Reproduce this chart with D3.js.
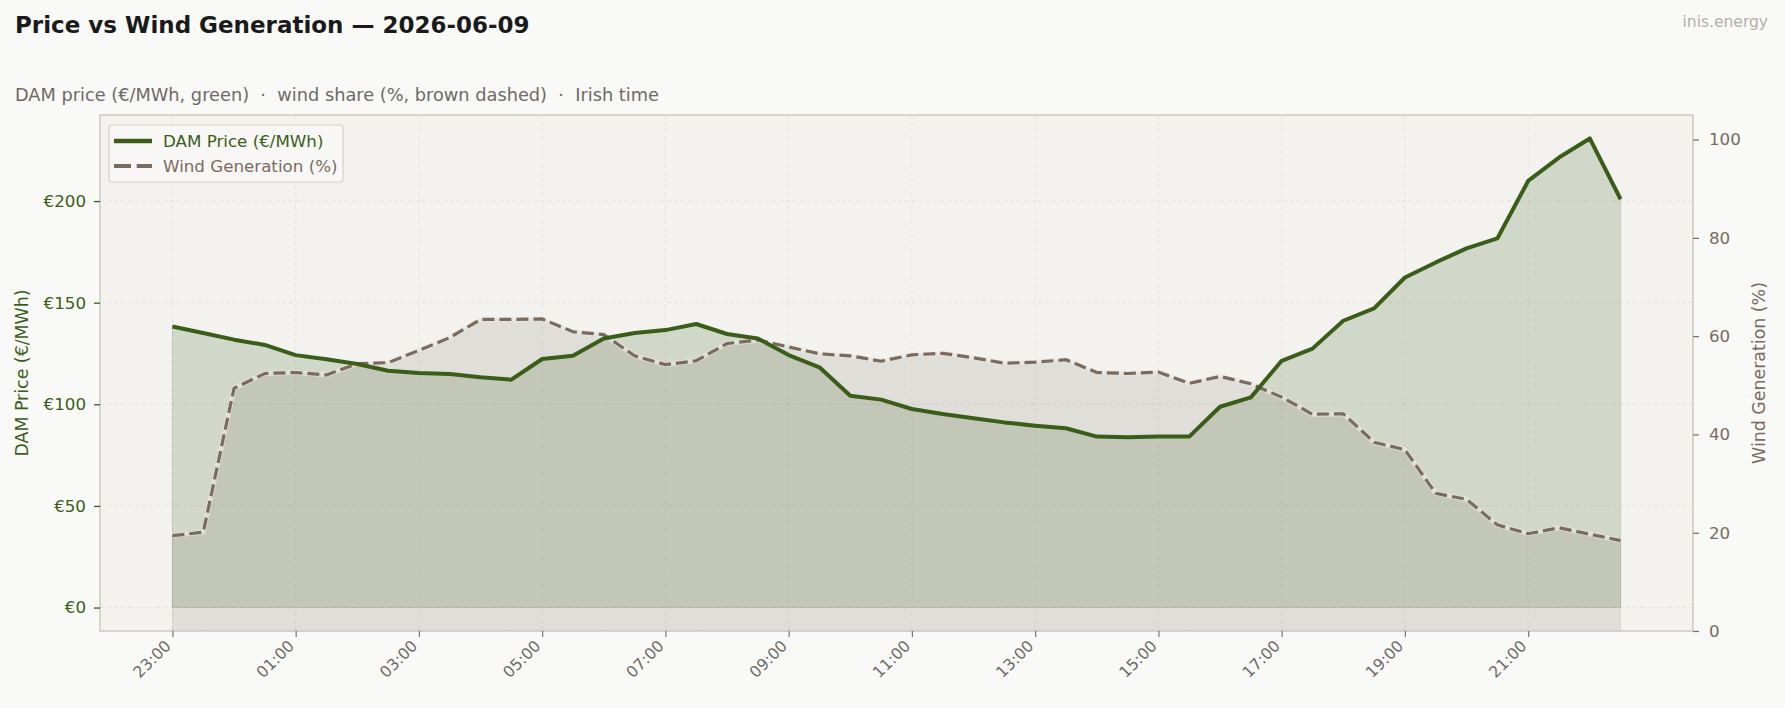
<!DOCTYPE html>
<html><head><meta charset="utf-8">
<script src="https://cdn.jsdelivr.net/npm/d3@7"></script>
<style>
html,body{margin:0;padding:0;background:#f9f9f7;}
svg{display:block;font-family:"DejaVu Sans",sans-serif;}
</style></head>
<body><svg id="c" width="1785" height="708"></svg>
<script>
const times = ["23:00","23:30","00:00","00:30","01:00","01:30","02:00","02:30","03:00","03:30","04:00","04:30",
"05:00","05:30","06:00","06:30","07:00","07:30","08:00","08:30","09:00","09:30","10:00","10:30",
"11:00","11:30","12:00","12:30","13:00","13:30","14:00","14:30","15:00","15:30","16:00","16:30",
"17:00","17:30","18:00","18:30","19:00","19:30","20:00","20:30","21:00","21:30","22:00","22:30"];
const price = [138.3,135.1,131.8,129.2,124.2,122.2,119.8,116.5,115.4,114.9,113.3,112.1,
122.3,123.9,132.4,135.1,136.5,139.5,134.6,132.4,124.2,118.2,104.2,102.3,
97.7,95.2,93.1,91.1,89.5,88.2,84.1,83.8,84.1,84.1,98.8,103.4,
121.4,127.4,141.1,147.2,162.4,169.8,176.7,181.6,209.9,221.4,230.8,200.9];
const wind = [19.4,20.1,49.4,52.4,52.6,52.1,54.4,54.6,57.1,59.7,63.4,63.4,
63.5,60.9,60.3,56.0,54.2,55.0,58.5,59.2,57.8,56.4,56.0,54.9,
56.2,56.5,55.6,54.5,54.7,55.2,52.6,52.4,52.7,50.4,51.8,50.3,
47.6,44.1,44.2,38.4,36.9,28.0,26.8,21.6,19.8,21.0,19.7,18.4];
const xTickLabels = ["23:00","01:00","03:00","05:00","07:00","09:00","11:00","13:00","15:00","17:00","19:00","21:00"];
const priceTicks = [0,50,100,150,200];
const windTicks = [0,20,40,60,80,100];

const W=1785,H=708;
const m={top:115,right:92,bottom:77,left:100};
const iw=W-m.left-m.right, ih=H-m.top-m.bottom;
const GREEN="#3a5e1a", BROWN="#7a6b5f", GRID="#e3e0db";
const FS=16.7, DASH="12,5";

function toDate(s){const [h,mm]=s.split(":").map(Number); return h>=23? new Date(2026,5,8,h,mm) : new Date(2026,5,9,h,mm);}
const dates = times.map(toDate);
const data = dates.map((d,i)=>({t:d,p:price[i],w:wind[i]}));

const t0=dates[0], t1=dates[dates.length-1];
const span=t1-t0, pad=span*0.05;
const x=d3.scaleTime().domain([new Date(+t0-pad),new Date(+t1+pad)]).range([0,iw]);
const pmax=d3.max(price), ppad=pmax*0.05;
const yL=d3.scaleLinear().domain([-ppad,pmax+ppad]).range([ih,0]);
const yR=d3.scaleLinear().domain([0,105]).range([ih,0]);

const svg=d3.select("#c");
svg.append("rect").attr("width",W).attr("height",H).attr("fill","#f9f9f7");

svg.append("text").attr("x",15).attr("y",33).attr("font-size",23).attr("font-weight","bold").attr("fill","#1a1a1a")
  .text("Price vs Wind Generation — 2026-06-09");
svg.append("text").attr("x",15).attr("y",101).attr("font-size",17.75).attr("fill","#6e6a66")
  .style("white-space","pre")
  .text("DAM price (€/MWh, green)  ·  wind share (%, brown dashed)  ·  Irish time");
svg.append("text").attr("x",1768).attr("y",27).attr("font-size",15.5).attr("fill","#b3b0ac").attr("text-anchor","end").text("inis.energy");

const g=svg.append("g").attr("transform",`translate(${m.left},${m.top})`);
g.append("rect").attr("width",iw).attr("height",ih).attr("fill","#f3f2ef");

const tickDates = xTickLabels.map(toDate);
g.append("g").selectAll("line").data(tickDates).join("line")
  .attr("x1",d=>x(d)).attr("x2",d=>x(d)).attr("y1",0).attr("y2",ih)
  .attr("stroke",GRID).attr("stroke-width",0.9).attr("stroke-dasharray","4,3");
g.append("g").selectAll("line").data(priceTicks).join("line")
  .attr("x1",0).attr("x2",iw).attr("y1",d=>yL(d)).attr("y2",d=>yL(d))
  .attr("stroke",GRID).attr("stroke-width",0.9).attr("stroke-dasharray","4,3");

g.append("path").datum(data)
  .attr("d",d3.area().x(d=>x(d.t)).y0(yR(0)).y1(d=>yR(d.w)))
  .attr("fill",BROWN).attr("fill-opacity",0.15).attr("stroke",BROWN).attr("stroke-opacity",0.12).attr("stroke-width",1);
g.append("path").datum(data)
  .attr("d",d3.area().x(d=>x(d.t)).y0(yL(0)).y1(d=>yL(d.p)))
  .attr("fill",GREEN).attr("fill-opacity",0.175).attr("stroke",GREEN).attr("stroke-opacity",0.15).attr("stroke-width",1);

const wl=d3.line().x(d=>x(d.t)).y(d=>yR(d.w));
g.append("path").datum(data).attr("d",wl).attr("fill","none").attr("stroke","#ebe8e2").attr("stroke-opacity",0.7).attr("stroke-width",4.8).attr("stroke-linejoin","round");
g.append("path").datum(data).attr("d",wl).attr("fill","none").attr("stroke",BROWN).attr("stroke-width",3.2).attr("stroke-dasharray",DASH);
g.append("path").datum(data).attr("d",d3.line().x(d=>x(d.t)).y(d=>yL(d.p)))
  .attr("fill","none").attr("stroke",GREEN).attr("stroke-width",4).attr("stroke-linejoin","round");

g.append("rect").attr("width",iw).attr("height",ih).attr("fill","none").attr("stroke","#cdc7c1").attr("stroke-width",1.5);

const ax=d3.axisBottom(x).tickValues(tickDates).tickFormat(d3.timeFormat("%H:%M")).tickSize(6).tickPadding(4);
const gx=g.append("g").attr("transform",`translate(0,${ih})`).call(ax);
gx.select(".domain").remove();
gx.selectAll(".tick line").attr("stroke","#7a7470").attr("stroke-width",1.2);
gx.selectAll(".tick text").attr("font-size",FS-1).attr("fill","#6e6a66").attr("font-family","DejaVu Sans")
  .attr("text-anchor","end").attr("y",0).attr("dy","0.71em").attr("transform","translate(-9,8) rotate(-45)");

const aL=d3.axisLeft(yL).tickValues(priceTicks).tickFormat(d=>"€"+d).tickSize(6).tickPadding(8);
const gl=g.append("g").call(aL);
gl.select(".domain").remove();
gl.selectAll(".tick line").attr("stroke",GREEN).attr("stroke-width",1.3);
gl.selectAll(".tick text").attr("font-size",FS).attr("fill",GREEN).attr("font-family","DejaVu Sans");

const aR=d3.axisRight(yR).tickValues(windTicks).tickSize(6).tickPadding(10);
const gr=g.append("g").attr("transform",`translate(${iw},0)`).call(aR);
gr.select(".domain").remove();
gr.selectAll(".tick line").attr("stroke",BROWN).attr("stroke-width",1.2);
gr.selectAll(".tick text").attr("font-size",FS).attr("fill",BROWN).attr("font-family","DejaVu Sans");

svg.append("text").attr("transform",`translate(28,${m.top+ih/2}) rotate(-90)`).attr("text-anchor","middle")
  .attr("font-size",17.4).attr("fill",GREEN).text("DAM Price (€/MWh)");
svg.append("text").attr("transform",`translate(1765,${m.top+ih/2}) rotate(-90)`).attr("text-anchor","middle")
  .attr("font-size",17.4).attr("fill",BROWN).text("Wind Generation (%)");

const lg=svg.append("g");
lg.append("rect").attr("x",109).attr("y",125).attr("width",234).attr("height",57).attr("rx",3)
  .attr("fill","#f8f7f5").attr("fill-opacity",0.9).attr("stroke","#d6d1cb").attr("stroke-width",1.2);
lg.append("line").attr("x1",114).attr("x2",152).attr("y1",141).attr("y2",141).attr("stroke",GREEN).attr("stroke-width",4.5);
lg.append("line").attr("x1",114).attr("x2",152).attr("y1",166).attr("y2",166).attr("stroke",BROWN).attr("stroke-width",4).attr("stroke-dasharray","17,5.7");
lg.append("text").attr("x",163).attr("y",146.5).attr("font-size",FS).attr("fill",GREEN).text("DAM Price (€/MWh)");
lg.append("text").attr("x",163).attr("y",171.5).attr("font-size",FS).attr("fill",BROWN).text("Wind Generation (%)");
</script></body></html>
